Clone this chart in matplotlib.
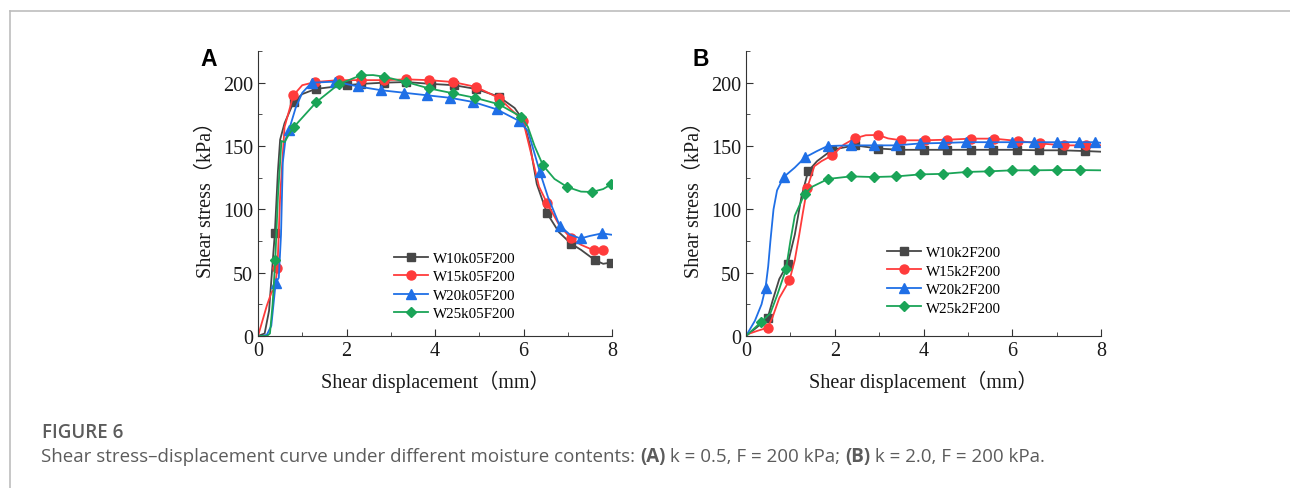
import matplotlib
matplotlib.use('Agg')
import matplotlib.pyplot as plt
from matplotlib.lines import Line2D
from matplotlib.ticker import MultipleLocator

# Panel A: k = 0.5, F = 200 kPa
a_w10_x = [0, 0.15, 0.25, 0.38, 0.45, 0.5, 0.6, 0.81, 1.0, 1.3, 2.0, 2.32, 2.85, 3.35, 3.92, 4.43,
           4.93, 5.44, 5.8, 6.0, 6.15, 6.3, 6.53, 6.8, 7.07, 7.3, 7.61, 7.8, 7.98]
a_w10_y = [0, 2, 20, 81, 130, 155, 168, 185, 191, 195, 198, 199, 200, 200.5, 199, 198,
           195, 189, 180, 170, 150, 120, 97, 82, 73, 68, 60, 57, 58]
a_w10_m = [3, 7, 9, 10, 11, 12, 13, 14, 15, 16, 17, 22, 24, 26, 28]

a_w15_x = [0, 0.1, 0.2, 0.3, 0.38, 0.44, 0.5, 0.6, 0.8, 1.0, 1.29, 1.82, 2.32, 2.85, 3.35, 3.86,
           4.41, 4.93, 5.44, 5.99, 6.2, 6.35, 6.53, 6.8, 7.07, 7.3, 7.59, 7.8]
a_w15_y = [0, 12, 24, 34, 38, 54, 110, 165, 190, 198, 200.5, 202, 202, 202, 202.6, 202,
           200.5, 196.6, 188, 170, 140, 118, 105, 88, 77, 72, 67.6, 67.6]
a_w15_m = [5, 8, 10, 11, 12, 13, 14, 15, 16, 17, 18, 19, 22, 24, 26, 27]

a_w20_x = [0, 0.1, 0.2, 0.3, 0.4, 0.47, 0.52, 0.56, 0.62, 0.70, 0.85, 1.0, 1.21, 1.75, 2.26, 2.79,
           3.31, 3.83, 4.35, 4.87, 5.39, 5.89, 6.1, 6.37, 6.55, 6.82, 7.05, 7.29, 7.5, 7.77, 7.98]
a_w20_y = [0, 0, 1, 8, 42, 46, 80, 137, 155, 162.6, 180, 192, 200, 200.8, 197, 194,
           192, 190, 188, 184.7, 179, 170, 162, 129.5, 110, 87, 80, 77, 79, 81, 80]
a_w20_m = [4, 9, 12, 13, 14, 15, 16, 17, 18, 19, 20, 21, 23, 25, 27, 29]

a_w25_x = [0, 0.2, 0.27, 0.33, 0.39, 0.45, 0.53, 0.6, 0.68, 0.81, 1.32, 1.82, 2.32, 2.6, 2.85,
           3.35, 3.86, 4.41, 4.91, 5.44, 5.95, 6.1, 6.25, 6.44, 6.7, 6.99, 7.3, 7.55, 7.8, 7.98]
a_w25_y = [0, 0, 2, 25, 60, 110, 154, 153, 158, 165, 184.7, 198.7, 205.8, 206, 204.7,
           200.5, 195.5, 191.6, 188, 183, 173, 165, 150, 134.7, 124, 117.6, 114, 113.7, 116, 119.7]
a_w25_m = [4, 9, 10, 11, 12, 14, 15, 16, 17, 18, 19, 20, 23, 25, 27, 29]

# Panel B: k = 2.0, F = 200 kPa
b_w10_x = [0, 0.25, 0.49, 0.6, 0.75, 0.94, 1.1, 1.25, 1.4, 1.6, 1.94, 2.45, 2.98, 3.48, 4.01,
           4.54, 5.07, 5.57, 6.1, 6.61, 7.13, 7.65, 8.0]
b_w10_y = [0, 7, 14.5, 28, 45, 57, 80, 110, 130, 138, 147, 150.5, 148, 147, 147,
           147, 147, 147, 147, 146.6, 146.6, 146, 145.5]
b_w10_m = [2, 5, 8, 10, 11, 12, 13, 14, 15, 16, 17, 18, 19, 20, 21]

b_w15_x = [0, 0.25, 0.49, 0.6, 0.75, 0.98, 1.1, 1.2, 1.28, 1.38, 1.54, 1.7, 1.94, 2.2, 2.45, 2.7,
           2.98, 3.2, 3.5, 4.03, 4.54, 5.07, 5.59, 6.12, 6.63, 7.16, 7.67, 8.0]
b_w15_y = [1, 4, 6.6, 15, 30, 44, 60, 80, 97, 117, 134, 138, 142.6, 151, 156, 158.5,
           158.7, 156, 154.5, 154.5, 155, 155.8, 155.8, 154, 152, 150.5, 150.5, 150.5]
b_w15_m = [2, 5, 9, 12, 14, 16, 18, 19, 20, 21, 22, 23, 24, 25, 26]

b_w20_x = [0, 0.2, 0.35, 0.44, 0.5, 0.55, 0.62, 0.7, 0.85, 1.1, 1.33, 1.6, 1.84, 2.36, 2.89,
           3.39, 3.92, 4.44, 4.96, 5.48, 5.99, 6.5, 7.0, 7.51, 7.87, 8.0]
b_w20_y = [0, 12, 25, 38, 55, 75, 100, 115, 125.5, 133, 141, 146, 150, 150.5, 150.5,
           150.5, 152, 152.4, 153, 153, 153, 153, 153, 153, 153, 152.5]
b_w20_m = [3, 8, 10, 12, 13, 14, 15, 16, 17, 18, 19, 20, 21, 22, 23, 24]

b_w25_x = [0, 0.34, 0.55, 0.7, 0.9, 1.0, 1.1, 1.32, 1.5, 1.85, 2.36, 2.88, 3.39, 3.93, 4.44,
           4.97, 5.48, 5.99, 6.5, 7.0, 7.52, 8.0]
b_w25_y = [0, 11, 18, 32, 52.6, 75, 95, 112, 118, 124, 126, 125.5, 126, 127.6, 128,
           129.5, 130, 130.8, 130.8, 131, 131, 130.8]
b_w25_m = [1, 4, 7, 9, 10, 11, 12, 13, 14, 15, 16, 17, 18, 19, 20]

labels_a = ['W10k05F200', 'W15k05F200', 'W20k05F200', 'W25k05F200']
labels_b = ['W10k2F200', 'W15k2F200', 'W20k2F200', 'W25k2F200']
colors = ['#474747', '#ff3b3b', '#1f6fe6', '#1aa457']
markers = ['s', 'o', '^', 'D']
msizes = [5.5, 6.5, 6.5, 5]

panel_a = [(a_w10_x, a_w10_y, a_w10_m), (a_w15_x, a_w15_y, a_w15_m),
           (a_w20_x, a_w20_y, a_w20_m), (a_w25_x, a_w25_y, a_w25_m)]
panel_b = [(b_w10_x, b_w10_y, b_w10_m), (b_w15_x, b_w15_y, b_w15_m),
           (b_w20_x, b_w20_y, b_w20_m), (b_w25_x, b_w25_y, b_w25_m)]

serif = ['Liberation Serif', 'Noto Sans CJK SC']

fig = plt.figure(figsize=(12.9, 4.89), dpi=100)
ax_a = fig.add_axes([258 / 1290, 1 - 337 / 489, 354 / 1290, 285 / 489])
ax_b = fig.add_axes([746 / 1290, 1 - 337 / 489, 355 / 1290, 285 / 489])


def draw_panel(ax, series, labels, letter, let_x, leg_x, leg_y):
    for (xs, ys, mk), lab, c, m, ms in zip(series, labels, colors, markers, msizes):
        ax.plot(xs, ys, color=c, lw=1.3, marker=m, markersize=ms, markevery=mk, label=lab)
    ax.set_xlim(0, 8)
    ax.set_ylim(0, 225)
    ax.xaxis.set_major_locator(MultipleLocator(2))
    ax.xaxis.set_minor_locator(MultipleLocator(1))
    ax.yaxis.set_major_locator(MultipleLocator(50))
    ax.yaxis.set_minor_locator(MultipleLocator(25))
    ax.tick_params(which='both', direction='in', colors='#333333', labelcolor='#1a1a1a')
    ax.tick_params(which='major', length=5, labelsize=14.5)
    ax.tick_params(which='minor', length=3)
    for t in ax.get_xticklabels() + ax.get_yticklabels():
        t.set_family(serif)
    for s in ['top', 'right']:
        ax.spines[s].set_visible(False)
    for s in ['left', 'bottom']:
        ax.spines[s].set_color('#333333')
    ax.set_xlabel('Shear displacement（mm）', family=serif, fontsize=14.5, color='#1a1a1a', labelpad=7)
    ax.set_ylabel('Shear stress（kPa）', family=serif, fontsize=14.5, color='#1a1a1a', labelpad=5)
    ax.legend(loc='lower left', bbox_to_anchor=(leg_x, leg_y), frameon=False,
              prop={'family': 'Liberation Serif', 'size': 10.8}, handlelength=2.3,
              handletextpad=0.3, labelspacing=0.33, borderpad=0, borderaxespad=0)
    ax.text(let_x, 0.974, letter, transform=ax.transAxes, family='Liberation Sans',
            fontweight='bold', fontsize=16.5, va='center', ha='left')


draw_panel(ax_a, panel_a, labels_a, 'A', -0.164, 0.384, 0.055)
draw_panel(ax_b, panel_b, labels_b, 'B', -0.152, 0.397, 0.075)

# frame of the figure box
fig.add_artist(Line2D([9.5 / 1290, 1], [1 - 11.5 / 489, 1 - 11.5 / 489], transform=fig.transFigure,
                      color='#bdbdbd', lw=1.2))
fig.add_artist(Line2D([9.5 / 1290, 9.5 / 1290], [0, 1 - 11.5 / 489], transform=fig.transFigure,
                      color='#bdbdbd', lw=1.2))

# caption
fig.text(42 / 1290, 1 - 433 / 489, 'FIGURE 6', family='Open Sans', fontsize=13.5, fontweight='semibold',
         color='#5c5c5c', va='center')

pieces = [('Shear stress–displacement curve under different moisture contents: ', 'normal'),
          ('(A)', 'bold'), (' k = 0.5, F = 200 kPa; ', 'normal'),
          ('(B)', 'bold'), (' k = 2.0, F = 200 kPa.', 'normal')]
fig.canvas.draw()
renderer = fig.canvas.get_renderer()
xpos = 41
for txt, wt in pieces:
    t = fig.text(xpos / 1290, 1 - 457 / 489, txt, family='Open Sans', fontsize=13.5, fontweight=wt,
                 color='#5c5c5c', va='center')
    bb = t.get_window_extent(renderer)
    xpos += bb.width

fig.savefig('out.png', dpi=100)
